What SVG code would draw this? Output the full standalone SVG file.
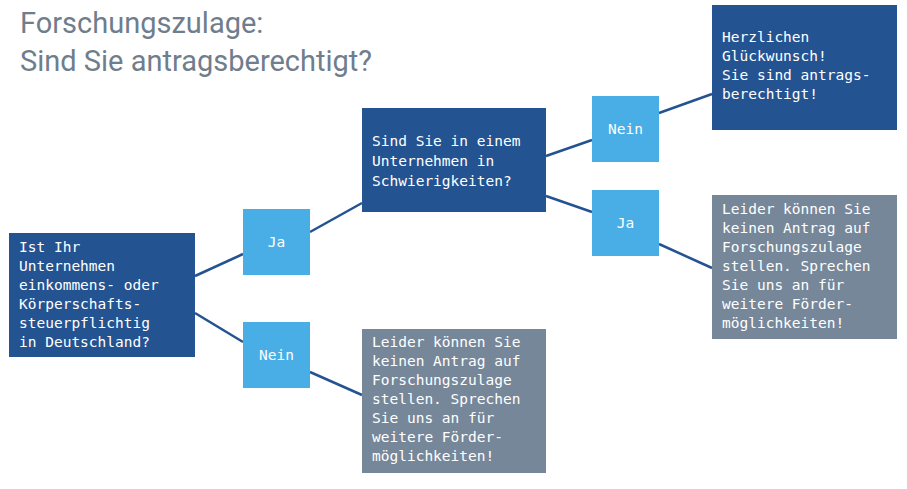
<svg xmlns="http://www.w3.org/2000/svg" width="907" height="489" viewBox="0 0 907 489">
<style>
.t{font-family:"Roboto","Liberation Sans",sans-serif;font-size:29px;fill:#6f7d8c}
.m{font-family:"DejaVu Sans Mono","Liberation Mono",monospace;font-size:14.5px;fill:#fff}
.d{fill:#245391}.l{fill:#4aaee6}.g{fill:#76879a}
#c line{stroke:#245391;stroke-width:2.5}
</style>
<rect width="907" height="489" fill="#fff"/>
<text class="t" x="20" y="33">Forschungszulage:</text>
<text class="t" x="20" y="71">Sind Sie antragsberechtigt?</text>
<g id="c">
<line x1="195" y1="276" x2="243" y2="254"/>
<line x1="195" y1="313" x2="243" y2="342"/>
<line x1="310" y1="232" x2="362" y2="203"/>
<line x1="310" y1="372" x2="362" y2="395"/>
<line x1="546" y1="156" x2="592" y2="140"/>
<line x1="546" y1="196" x2="592" y2="212"/>
<line x1="659" y1="113" x2="712" y2="94"/>
<line x1="659" y1="244" x2="712" y2="268"/>
</g>
<g id="q1"><rect class="d" x="9" y="233" width="186" height="124"/>
<text class="m"><tspan x="19" y="252">Ist Ihr</tspan><tspan x="19" y="271">Unternehmen</tspan><tspan x="19" y="290">einkommens- oder</tspan><tspan x="19" y="309">Körperschafts-</tspan><tspan x="19" y="328">steuerpflichtig</tspan><tspan x="19" y="347">in Deutschland?</tspan></text></g>
<g id="ja1"><rect class="l" x="243" y="209" width="67" height="66"/><text class="m" x="276.5" y="247" text-anchor="middle">Ja</text></g>
<g id="nein1"><rect class="l" x="243" y="322" width="67" height="66"/><text class="m" x="276.5" y="360" text-anchor="middle">Nein</text></g>
<g id="q2"><rect class="d" x="362" y="108" width="184" height="104"/>
<text class="m"><tspan x="372" y="146">Sind Sie in einem</tspan><tspan x="372" y="166">Unternehmen in</tspan><tspan x="372" y="186">Schwierigkeiten?</tspan></text></g>
<g id="no1"><rect class="g" x="362" y="329" width="184" height="144"/>
<text class="m"><tspan x="372" y="347">Leider können Sie</tspan><tspan x="372" y="366">keinen Antrag auf</tspan><tspan x="372" y="385">Forschungszulage</tspan><tspan x="372" y="404">stellen. Sprechen</tspan><tspan x="372" y="423">Sie uns an für</tspan><tspan x="372" y="442">weitere Förder-</tspan><tspan x="372" y="461">möglichkeiten!</tspan></text></g>
<g id="nein2"><rect class="l" x="592" y="96" width="67" height="66"/><text class="m" x="625.5" y="134" text-anchor="middle">Nein</text></g>
<g id="ja2"><rect class="l" x="592" y="190" width="67" height="66"/><text class="m" x="625.5" y="228" text-anchor="middle">Ja</text></g>
<g id="yes"><rect class="d" x="712" y="5" width="185" height="125"/>
<text class="m"><tspan x="722" y="42">Herzlichen</tspan><tspan x="722" y="61">Glückwunsch!</tspan><tspan x="722" y="80">Sie sind antrags-</tspan><tspan x="722" y="99">berechtigt!</tspan></text></g>
<g id="no2"><rect class="g" x="712" y="195" width="185" height="144"/>
<text class="m"><tspan x="722" y="214">Leider können Sie</tspan><tspan x="722" y="233">keinen Antrag auf</tspan><tspan x="722" y="252">Forschungszulage</tspan><tspan x="722" y="271">stellen. Sprechen</tspan><tspan x="722" y="290">Sie uns an für</tspan><tspan x="722" y="309">weitere Förder-</tspan><tspan x="722" y="328">möglichkeiten!</tspan></text></g>
</svg>
